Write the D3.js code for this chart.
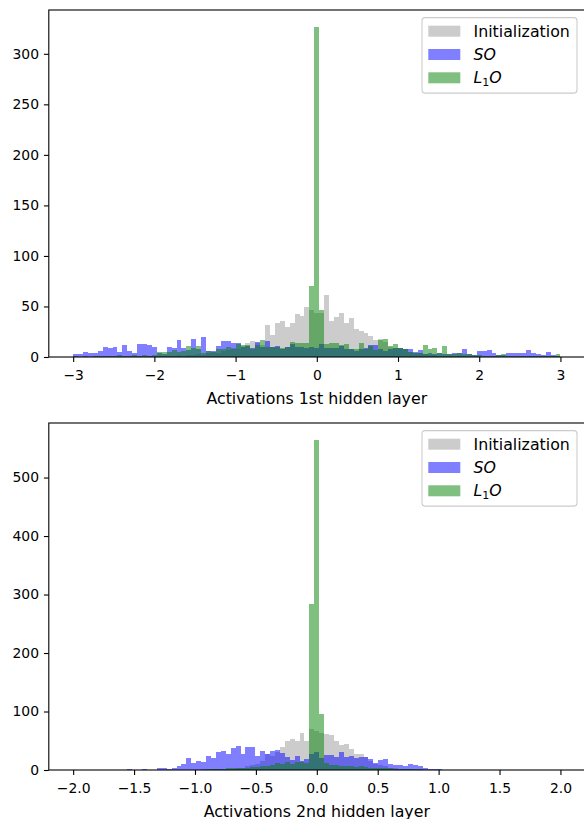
<!DOCTYPE html>
<html><head><meta charset="utf-8">
<script src="https://cdn.jsdelivr.net/npm/d3@7"></script>
<style>
body{margin:0;background:#fff}
svg{display:block}
text{font-family:"DejaVu Sans",sans-serif}
</style>
</head><body>
<svg id="chart" width="584" height="819"></svg>
<script>
// ---------- data ----------
const seriesLabels = ["Initialization", "SO", "L1O"];
const seriesColors = ["#999999", "#0000ff", "#008000"];

// Top panel: 99 equal bins over [-3, 3]
const topRange = [-3, 3];
const topInit = [
  0,0,0,0,0,0,0,0,0,0,
  0,0,0,0,0,1,0,1,1,1,
  1,2,1,2,2,3,2,4,5,4,
  6,7,9,8,11,14,16,14,12,32,
  22,34,36,30,34,43,41,49,47,44,
  44,61,36,40,44,34,39,28,26,24,
  21,17,18,15,10,9,9,8,5,4,
  4,3,2,2,1,1,1,0,1,0,
  0,0,0,0,0,0,0,0,0,0,
  0,0,0,0,0,0,0,0,0];
const topSO = [
  3,3,5,4,4,6,10,9,10,5,
  12,6,4,13,13,12,10,4,3,10,
  9,17,9,7,18,8,20,6,6,11,
  16,16,14,14,10,11,9,15,10,16,
  10,11,8,10,13,10,10,9,10,9,
  13,9,9,9,11,8,8,6,8,9,
  12,12,8,6,8,9,9,8,8,5,
  7,3,4,3,4,3,3,4,4,8,
  3,2,6,6,7,4,2,2,4,4,
  4,4,7,4,3,2,5,2,1];
const topL1O = [
  1,0,1,0,1,1,1,1,1,2,
  1,1,2,1,2,1,2,5,5,5,
  7,5,6,11,9,11,4,6,5,8,
  8,10,8,13,12,12,8,12,17,10,
  10,10,9,10,15,14,14,14,70,327,
  47,13,14,14,12,13,8,8,14,8,
  11,7,17,18,11,13,9,8,5,4,
  4,12,8,9,4,11,3,3,4,3,
  3,2,2,1,1,1,2,3,1,1,
  1,1,1,1,1,1,1,1,3];

// Bottom panel: 99 equal bins over [-2, 2]
const botRange = [-2, 2];
const botInit = [
  0,0,0,0,0,0,0,0,0,0,
  0,0,0,0,0,0,0,0,0,0,
  0,0,0,0,0,0,1,0,1,1,
  1,2,2,3,4,6,8,10,16,28,
  24,30,40,50,53,49,64,49,70,66,
  63,61,60,50,43,45,36,28,27,22,
  15,10,8,6,4,3,2,1,1,0,
  0,0,0,0,0,0,0,0,0,0,
  0,0,0,0,0,0,0,0,0,0,
  0,0,0,0,0,0,0,0,0];
const botSO = [
  0,0,0,0,0,0,0,0,0,0,
  0,2,0,0,2,0,0,3,3,1,
  3,7,10,20,12,15,14,24,21,30,
  33,27,37,41,28,39,39,24,32,27,
  33,35,29,22,17,24,16,19,27,31,
  20,26,25,23,30,22,24,21,22,22,
  18,12,17,18,11,8,8,6,10,8,
  6,4,1,2,2,0,0,0,0,0,
  0,0,0,0,0,0,0,0,0,0,
  0,0,0,0,0,0,0,0,0];
const botL1O = [
  0,0,0,0,0,0,0,0,0,0,
  0,0,0,0,0,0,0,0,0,0,
  0,0,0,0,0,0,0,1,1,2,
  2,3,3,3,4,4,5,5,6,7,
  8,12,11,14,10,13,14,12,283,565,
  96,12,9,8,7,6,6,5,6,5,
  4,4,3,3,3,2,2,1,1,1,
  1,0,0,0,0,0,0,0,0,0,
  0,0,0,0,0,0,0,0,0,0,
  0,0,0,0,0,0,0,0,0];

const topXTicks = [-3, -2, -1, 0, 1, 2, 3];
const topYTicks = [0, 50, 100, 150, 200, 250, 300];
const botXTicks = [-2, -1.5, -1, -0.5, 0, 0.5, 1, 1.5, 2];
const botYTicks = [0, 100, 200, 300, 400, 500];
const topTitle = "Activations 1st hidden layer";
const botTitle = "Activations 2nd hidden layer";

// ---------- layout ----------
const axLeft = 48.8, axRight = 584.8;
const FS = 13.9;       // tick labels
const LBS = 15.8;      // axis label
const LFS = 15.8;      // legend font
const tickLen = 4.9, lw = 1.1;

const svg = d3.select("#chart");

function panel(y0, y1, range, seriesData, xTicks, yTicks, title, xFmt) {
  const span = range[1] - range[0];
  const x = d3.scaleLinear()
    .domain([range[0] - 0.05 * span, range[1] + 0.05 * span])
    .range([axLeft, axRight]);
  const ymax = d3.max(seriesData, s => d3.max(s));
  const y = d3.scaleLinear().domain([0, ymax * 1.05]).range([y1, y0]);
  const g = svg.append("g");

  const n = seriesData[0].length;
  const w = span / n;
  seriesData.forEach((vals, si) => {
    g.append("g")
      .selectAll("rect")
      .data(vals.map((v, k) => ({ v, a: range[0] + k * w, b: range[0] + (k + 1) * w })))
      .join("rect")
      .attr("x", d => x(d.a))
      .attr("width", d => x(d.b) - x(d.a))
      .attr("y", d => y(d.v))
      .attr("height", d => y(0) - y(d.v))
      .attr("fill", seriesColors[si])
      .attr("fill-opacity", 0.5)
      .attr("shape-rendering", "crispEdges");
  });

  // frame
  g.append("rect")
    .attr("x", axLeft).attr("y", y0)
    .attr("width", axRight - axLeft).attr("height", y1 - y0)
    .attr("fill", "none").attr("stroke", "#000").attr("stroke-width", lw);

  // x axis
  const xa = g.append("g").attr("transform", `translate(0,${y1})`)
    .call(d3.axisBottom(x).tickValues(xTicks).tickFormat(xFmt)
      .tickSize(tickLen).tickPadding(tickLen).tickSizeOuter(0));
  xa.select(".domain").remove();
  xa.selectAll("line").attr("stroke", "#000").attr("stroke-width", lw);
  xa.selectAll("text").attr("font-size", FS).attr("fill", "#000")
    .attr("font-family", "DejaVu Sans").attr("dy", "0.93em");

  // y axis
  const ya = g.append("g").attr("transform", `translate(${axLeft},0)`)
    .call(d3.axisLeft(y).tickValues(yTicks).tickFormat(d3.format("d"))
      .tickSize(tickLen).tickPadding(tickLen).tickSizeOuter(0));
  ya.select(".domain").remove();
  ya.selectAll("line").attr("stroke", "#000").attr("stroke-width", lw);
  ya.selectAll("text").attr("font-size", FS).attr("fill", "#000")
    .attr("font-family", "DejaVu Sans");

  // x label
  g.append("text")
    .attr("x", (axLeft + axRight) / 2).attr("y", y1 + 46.5)
    .attr("text-anchor", "middle").attr("font-size", LBS).attr("fill", "#000")
    .text(title);

  // legend
  const bw = 155, bh = 75.5;
  const lg = g.append("g").attr("transform", `translate(${axRight - 7.8 - bw},${y0 + 7.6})`);
  lg.append("rect").attr("x", 0).attr("y", 0).attr("width", bw).attr("height", bh)
    .attr("rx", 3).attr("fill", "#fff").attr("fill-opacity", 0.8)
    .attr("stroke", "#cccccc").attr("stroke-width", lw);
  seriesLabels.forEach((lab, i) => {
    const cy = 13.6 + i * 23.3;
    lg.append("rect").attr("x", 6.3).attr("y", cy - 5.5).attr("width", 32).attr("height", 11)
      .attr("fill", seriesColors[i]).attr("fill-opacity", 0.5);
    const t = lg.append("text").attr("x", 51.5).attr("y", cy + 5.6)
      .attr("font-size", LFS).attr("fill", "#000");
    if (lab === "Initialization") {
      t.text(lab);
    } else if (lab === "SO") {
      t.append("tspan").attr("font-style", "italic").text("SO");
    } else {
      t.append("tspan").attr("font-style", "italic").text("L");
      t.append("tspan").attr("font-size", LFS * 0.7).attr("dy", 3).text("1");
      t.append("tspan").attr("font-style", "italic").attr("dy", -3).text("O");
    }
  });
}

panel(10, 357, topRange, [topInit, topSO, topL1O], topXTicks, topYTicks, topTitle, d3.format("d"));
panel(423, 770, botRange, [botInit, botSO, botL1O], botXTicks, botYTicks, botTitle, d3.format(".1f"));
</script>
</body></html>
